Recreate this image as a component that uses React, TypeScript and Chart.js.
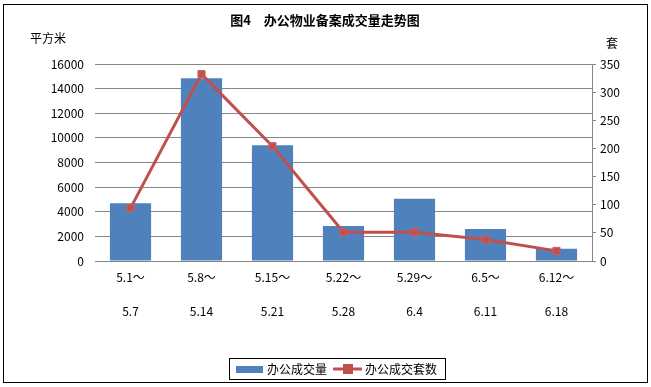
import React, { useEffect, useRef } from "react";
import { Chart, registerables } from "chart.js";

Chart.register(...registerables);

const categories: string[][] = [
  ["5.1～", "5.7"],
  ["5.8～", "5.14"],
  ["5.15～", "5.21"],
  ["5.22～", "5.28"],
  ["5.29～", "6.4"],
  ["6.5～", "6.11"],
  ["6.12～", "6.18"],
];
const areaValues = [4700, 14850, 9400, 2850, 5050, 2600, 1000];
const unitValues = [94, 332, 204, 51, 51, 38, 18];
const titleText = "图4　办公物业备案成交量走势图";
const leftUnit = "平方米";
const rightUnit = "套";
const seriesNames = ["办公成交量", "办公成交套数"];

const FONT = "'Noto Sans CJK SC', 'Noto Sans', sans-serif";
const BAR = "#4F81BD";
const LINE = "#C0504D";
const GRID = "#868686";

const decorPlugin = {
  id: "decor",
  beforeDraw(chart: any) {
    const ctx = chart.ctx;
    ctx.save();
    ctx.fillStyle = "#fff";
    ctx.fillRect(0, 0, chart.width, chart.height);
    ctx.restore();
  },
  afterDraw(chart: any) {
    const ctx = chart.ctx;
    ctx.save();
    // outer border
    ctx.strokeStyle = "#000";
    ctx.lineWidth = 1;
    ctx.strokeRect(3.5, 4.5, 644, 378);
    // title
    ctx.fillStyle = "#000";
    ctx.font = `bold 13px ${FONT}`;
    ctx.textAlign = "center";
    ctx.textBaseline = "middle";
    ctx.fillText(titleText, 325, 20);
    // unit labels
    ctx.font = `12px ${FONT}`;
    ctx.textAlign = "left";
    ctx.fillText(leftUnit, 30, 38);
    ctx.textAlign = "center";
    ctx.fillText(rightUnit, 612, 43);
    // legend
    const lx = 229, ly = 358, lw = 216, lh = 21;
    ctx.strokeStyle = "#000";
    ctx.lineWidth = 1;
    ctx.strokeRect(lx + 0.5, ly + 0.5, lw, lh);
    const cy = ly + lh / 2 + 0.5;
    ctx.fillStyle = BAR;
    ctx.fillRect(236, cy - 3, 27, 7);
    ctx.fillStyle = "#000";
    ctx.textAlign = "left";
    ctx.textBaseline = "middle";
    ctx.fillText(seriesNames[0], 267, cy);
    ctx.strokeStyle = LINE;
    ctx.lineWidth = 3;
    ctx.beginPath();
    ctx.moveTo(333, cy);
    ctx.lineTo(362, cy);
    ctx.stroke();
    ctx.fillStyle = LINE;
    ctx.fillRect(343, cy - 5, 10, 10);
    ctx.fillStyle = "#000";
    ctx.fillText(seriesNames[1], 365, cy);
    ctx.restore();
  },
};

export default function App() {
  const ref = useRef<HTMLCanvasElement | null>(null);
  useEffect(() => {
    if (!ref.current) return;
    const chart = new Chart(ref.current, {
      type: "bar",
      data: {
        labels: categories,
        datasets: [
          {
            type: "line",
            label: seriesNames[1],
            data: unitValues,
            yAxisID: "y1",
            borderColor: LINE,
            backgroundColor: LINE,
            borderWidth: 3,
            pointStyle: "rect",
            pointRadius: 5,
            pointBorderWidth: 1,
            pointBorderColor: "#C9625F",
            tension: 0,
            order: 0,
          } as any,
          {
            type: "bar",
            label: seriesNames[0],
            data: areaValues,
            yAxisID: "y",
            backgroundColor: BAR,
            borderWidth: 0,
            categoryPercentage: 1,
            barPercentage: 0.58,
            order: 1,
          },
        ],
      },
      options: {
        responsive: false,
        animation: false,
        layout: { padding: { top: 64, left: 0, right: 0, bottom: 0 } },
        plugins: {
          legend: { display: false },
          title: { display: false },
          tooltip: { enabled: false },
        },
        scales: {
          x: {
            grid: { display: false, drawTicks: false },
            border: { display: true, color: GRID, width: 1 },
            ticks: {
              color: "#000",
              font: { family: FONT, size: 12, lineHeight: 2.8 },
              padding: 0,
              maxRotation: 0,
              autoSkip: false,
            },
            afterFit(s: any) {
              s.height = 126;
            },
          },
          y: {
            position: "left",
            min: 0,
            max: 16000,
            grid: { color: GRID, drawTicks: false, lineWidth: 1 },
            border: { display: false },
            ticks: {
              stepSize: 2000,
              color: "#000",
              padding: 11,
              font: { family: FONT, size: 12 },
              callback: (v: any) => String(v),
            },
            afterFit(s: any) {
              s.width = 95;
            },
          },
          y1: {
            position: "right",
            min: 0,
            max: 350,
            grid: { drawOnChartArea: false, color: GRID, tickLength: 4 },
            border: { display: true, color: GRID },
            ticks: {
              stepSize: 50,
              color: "#000",
              padding: 4,
              font: { family: FONT, size: 12 },
              callback: (v: any) => String(v),
            },
            afterFit(s: any) {
              s.width = 59;
            },
          },
        },
      },
      plugins: [decorPlugin],
    });
    return () => chart.destroy();
  }, []);
  return (
    <div style={{ position: "absolute", left: 0, top: 0, width: 651, height: 387 }}>
      <canvas ref={ref} width={651} height={387} style={{ width: 651, height: 387, display: "block" }} />
    </div>
  );
}
